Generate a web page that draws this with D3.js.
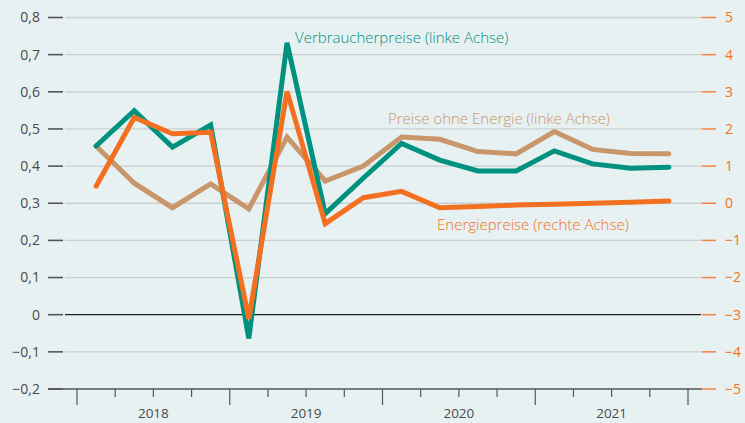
<!DOCTYPE html>
<html><head><meta charset="utf-8">
<script src="https://cdn.jsdelivr.net/npm/d3@7"></script>
<style>
html,body{margin:0;padding:0;background:#e8f1f2;}
svg{display:block;font-family:"Open Sans",sans-serif;}
</style></head>
<body><svg id="c" width="745" height="423"></svg>
<script>
const quarters = ["2018Q1","2018Q2","2018Q3","2018Q4","2019Q1","2019Q2","2019Q3","2019Q4","2020Q1","2020Q2","2020Q3","2020Q4","2021Q1","2021Q2","2021Q3","2021Q4"];
const years = ["2018","2019","2020","2021"];
const verbraucherpreise = [0.454,0.549,0.451,0.511,-0.064,0.732,0.272,0.368,0.461,0.416,0.387,0.387,0.441,0.406,0.394,0.397];
const preiseOhneEnergie = [0.454,0.354,0.288,0.352,0.285,0.478,0.360,0.400,0.478,0.472,0.439,0.433,0.493,0.445,0.434,0.433];
const energiepreise = [0.46,2.31,1.87,1.91,-3.11,3.01,-0.55,0.15,0.32,-0.12,-0.09,-0.05,-0.03,0.0,0.03,0.06];
const leftTicks = [-0.2,-0.1,0,0.1,0.2,0.3,0.4,0.5,0.6,0.7,0.8];
const rightTicks = [-5,-4,-3,-2,-1,0,1,2,3,4,5];
const labels = {v:"Verbraucherpreise (linke Achse)", p:"Preise ohne Energie (linke Achse)", e:"Energiepreise (rechte Achse)"};

const C = {teal:"#00917f", tan:"#c8966a", orange:"#f37021", axis:"#555", grid:"#c9cfd0", text:"#4a4a4a"};
const svg = d3.select("#c");
const x = d3.scaleLinear().domain([0,16]).range([77,688]);
const yL = d3.scaleLinear().domain([-0.2,0.8]).range([389,17.5]);
const yR = d3.scaleLinear().domain([-5,5]).range([389,17.5]);
const fmt = v => (v<0?"\u2212":"") + String(Math.abs(Math.round(v*10)/10)).replace(".",",");

// gridlines
svg.append("g").selectAll("line").data(leftTicks.filter(t=>t!==-0.2 && t!==0)).join("line")
  .attr("x1",65).attr("x2",702).attr("y1",d=>yL(d)).attr("y2",d=>yL(d))
  .attr("stroke",C.grid).attr("stroke-width",1.3);
// left ticks
const gl = svg.append("g");
gl.selectAll("line").data(leftTicks).join("line")
  .attr("x1",48).attr("x2",63).attr("y1",d=>yL(d)).attr("y2",d=>yL(d))
  .attr("stroke",C.axis).attr("stroke-width",1.6);
gl.selectAll("text").data(leftTicks).join("text")
  .attr("x",40).attr("y",d=>yL(d)).attr("dy","0.35em").attr("text-anchor","end")
  .attr("font-size",14).attr("fill",C.text).text(fmt);
// right ticks
const gr = svg.append("g");
gr.selectAll("line").data(rightTicks).join("line")
  .attr("x1",702).attr("x2",716).attr("y1",d=>yR(d)).attr("y2",d=>yR(d))
  .attr("stroke",C.orange).attr("stroke-width",1.5).attr("stroke-opacity",0.85);
gr.selectAll("text").data(rightTicks).join("text")
  .attr("x",725).attr("y",d=>yR(d)).attr("dy","0.35em").attr("text-anchor","start")
  .attr("font-size",14).attr("fill",C.orange).text(fmt);
// zero line
svg.append("line").attr("x1",65).attr("x2",701).attr("y1",yL(0)).attr("y2",yL(0))
  .attr("stroke","#222").attr("stroke-width",1.3);
// x axis
svg.append("line").attr("x1",48).attr("x2",702).attr("y1",389).attr("y2",389)
  .attr("stroke",C.axis).attr("stroke-width",1.4);
const qIdx = d3.range(0,17);
svg.append("g").selectAll("line").data(qIdx).join("line")
  .attr("x1",d=>x(d)).attr("x2",d=>x(d)).attr("y1",389).attr("y2",d=>d%4===0?405:397)
  .attr("stroke",C.axis).attr("stroke-width",1.2);
svg.append("g").selectAll("text").data(years).join("text")
  .attr("x",(d,i)=>x(i*4+2)).attr("y",413).attr("dy","0.35em").attr("text-anchor","middle")
  .attr("font-size",13.5).attr("fill",C.text).text(d=>d);

// lines
const lineL = d3.line().x((d,i)=>x(i+0.5)).y(d=>yL(d));
const lineR = d3.line().x((d,i)=>x(i+0.5)).y(d=>yR(d));
const draw = (data,gen,col) => svg.append("path").datum(data).attr("d",gen)
  .attr("fill","none").attr("stroke",col).attr("stroke-width",5)
  .attr("stroke-linejoin","miter").attr("stroke-miterlimit",3).attr("stroke-linecap","round");
draw(preiseOhneEnergie,lineL,C.tan);
draw(verbraucherpreise,lineL,C.teal);
draw(energiepreise,lineR,C.orange);

// labels
const lab = (t,xx,yy,col) => svg.append("text").attr("x",xx).attr("y",yy).attr("dy","0.35em")
  .attr("font-size",15).attr("font-weight",300).attr("fill",col).text(t);
lab(labels.v,295,38,C.teal);
lab(labels.p,388,119,C.tan);
lab(labels.e,437,225,C.orange);
</script></body></html>
